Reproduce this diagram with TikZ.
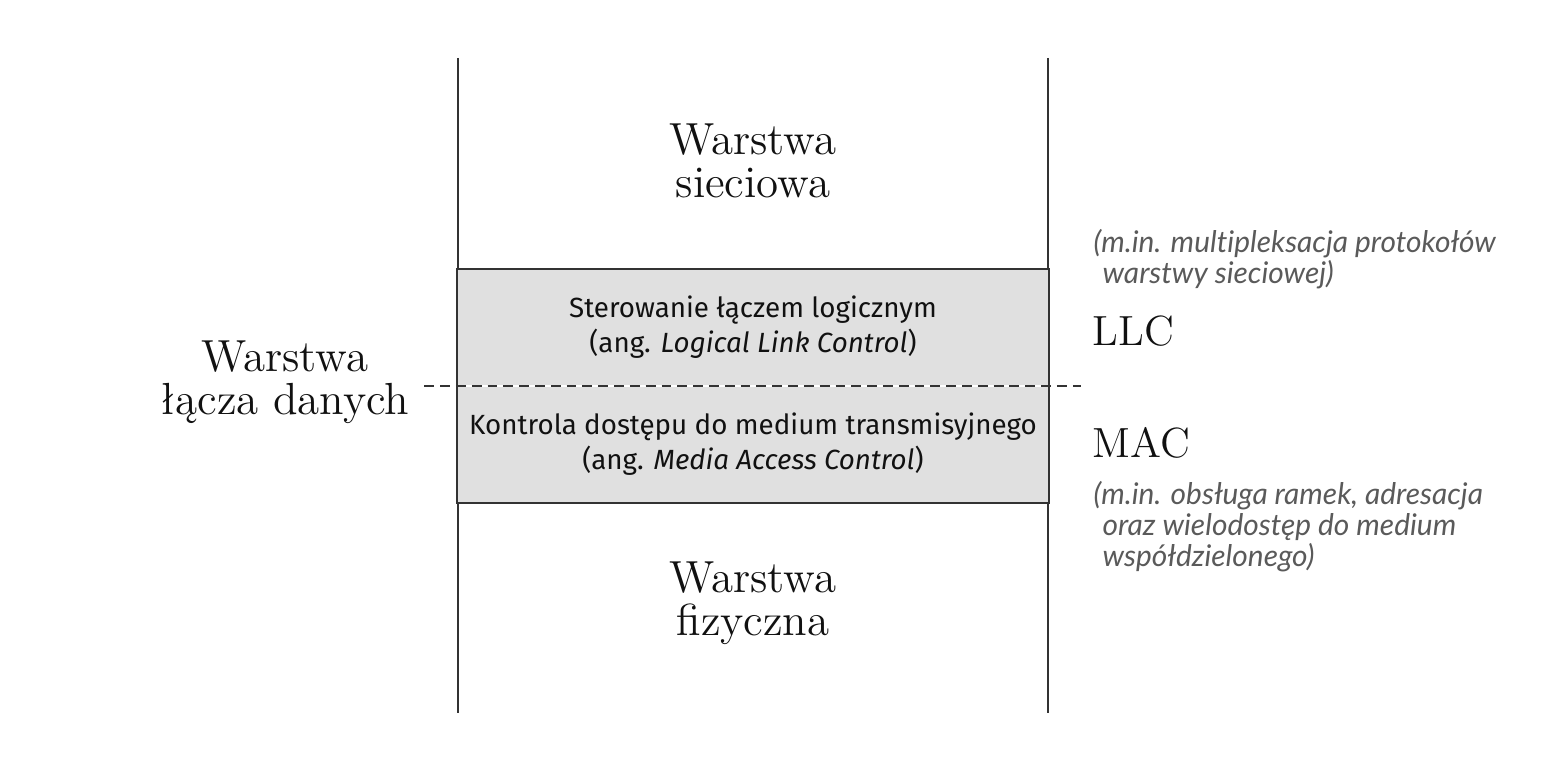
\documentclass[tikz,border=0pt]{standalone}
\usepackage{fontspec}
\usetikzlibrary{calc,fit,backgrounds}
\newfontfamily\boxfont{Fira Sans}
\newfontfamily\notefont[Ligatures=NoCommon]{Lato}
\definecolor{ink}{HTML}{111111}
\definecolor{rule}{HTML}{333333}
\definecolor{muted}{HTML}{5A5A5A}
\definecolor{layerfill}{HTML}{E0E0E0}

\begin{document}
\begin{tikzpicture}[
  rail/.style={line width=0.45pt,draw=rule},
  divider/.style={line width=0.35pt,draw=rule,dash pattern=on 2.8pt off 1.7pt},
  sublayer/.style={fill=layerfill,minimum width=5.9cm,minimum height=1.155cm,
                   inner sep=0pt,align=center,text=ink,
                   font=\boxfont\fontsize{7.9}{10}\selectfont},
  dllframe/.style={draw=rule,line width=0.6pt,inner sep=0pt},
  layer/.style={align=center,text=ink,font=\fontsize{12.8}{12.2}\selectfont},
  tag/.style={anchor=west,inner sep=0pt,text=ink,font=\fontsize{12}{12}\selectfont},
  note/.style={anchor=west,align=left,inner sep=0pt,text=muted,
               font=\notefont\itshape\fontsize{8.5}{8.8}\selectfont}
]
\useasboundingbox (0,0) rectangle (15.6,7.62);

% Rails of the stack
\coordinate (railLtop) at (4.58,7.04);
\coordinate (railLbot) at (4.58,0.49);
\coordinate (railRtop) at (10.48,7.04);
\coordinate (railRbot) at (10.48,0.49);
\draw[rail] (railLtop) -- (railLbot);
\draw[rail] (railRtop) -- (railRbot);

% Upper and lower layers
\node[layer] (network) at (7.53,6.01) {Warstwa\\sieciowa};
\node[layer] (physical) at (7.53,1.59) {Warstwa\\fizyczna};

% Data link layer: two sublayers
\node[sublayer] (llc) at (7.53,4.345)
  {Sterowanie łączem logicznym\\(ang. \textit{Logical Link Control})};
\node[sublayer,anchor=north] (mac) at (llc.south)
  {Kontrola dostępu do medium transmisyjnego\\(ang. \textit{Media Access Control})};
\node[dllframe,fit=(llc)(mac)] (dll) {};
\draw[divider] ($(llc.south west)+(-0.33,0)$) -- ($(llc.south east)+(0.32,0)$);

\node[layer] (dlllabel) at (2.85,3.80) {Warstwa\\łącza danych};

% Sublayer tags and notes
\node[tag] (llctag) at (10.92,4.31) {LLC};
\node[tag] (mactag) at (10.92,3.19) {MAC};
\node[note] (llcnote) at (10.93,5.025)
  {(m.in. multipleksacja protokołów\\\hspace*{0.3em}warstwy sieciowej)};
\node[note] (macnote) at (10.93,2.355)
  {(m.in. obsługa ramek, adresacja\\\hspace*{0.3em}oraz wielodostęp do medium\\\hspace*{0.3em}współdzielonego)};

\end{tikzpicture}
\end{document}
